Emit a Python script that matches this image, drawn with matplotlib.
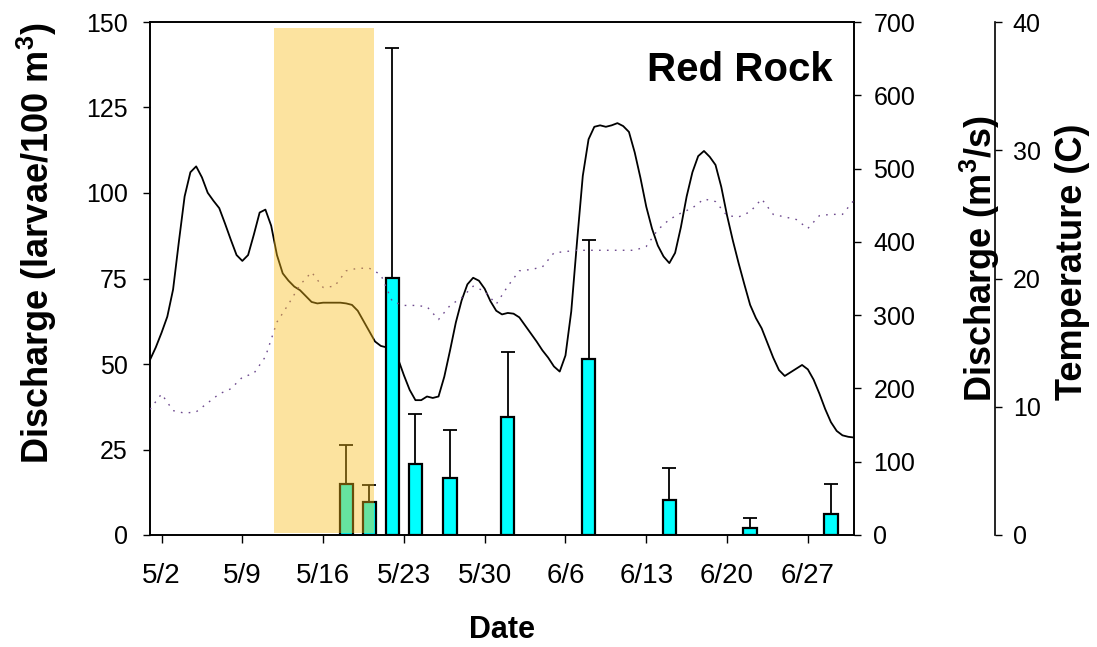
import numpy as np
import pandas as pd
import matplotlib
matplotlib.use("Agg")
import matplotlib.pyplot as plt

plt.rcParams['font.family'] = ['Liberation Sans', 'DejaVu Sans']
plt.rcParams['mathtext.fontset'] = 'custom'
plt.rcParams['mathtext.rm'] = 'Liberation Sans'
plt.rcParams['mathtext.bf'] = 'Liberation Sans:bold'

YEAR = '2008'

# discharge (m3/s) read every 12 h, from 5/1 00:00 to 7/1 00:00
flow_start = '05-01'
discharge = [239, 256, 276, 298, 335, 400, 462, 495, 503, 488,
             467, 456, 446, 425, 403, 382, 374, 382, 410, 440,
             444, 422, 382, 357, 347, 339, 334, 326, 318, 316,
             317, 317, 317, 317, 316, 314, 306, 292, 278, 264,
             258, 256, 250, 240, 218, 198, 184, 184, 189, 187,
             189, 216, 252, 290, 320, 342, 351, 347, 336, 319,
             306, 301, 303, 302, 297, 286, 275, 264, 252, 242,
             230, 223, 245, 305, 400, 490, 540, 557, 559, 557,
             559, 562, 558, 550, 522, 487, 448, 418, 395, 380,
             371, 385, 420, 462, 495, 517, 524, 516, 505, 475,
             436, 402, 371, 342, 314, 296, 282, 262, 242, 225,
             217, 222, 227, 232, 226, 212, 193, 172, 154, 142,
             136, 134, 133]

# daily water temperature (C), 5/1 .. 7/1
temperature = [9.8, 11.0, 9.7, 9.5, 9.6, 10.3, 11.0, 11.4, 12.3, 12.6,
               13.9, 16.6, 18.0, 19.5, 20.5, 19.3, 19.4, 20.6, 20.8, 20.8,
               20.3, 18.2, 17.9, 17.9, 17.8, 16.8, 17.9, 18.5, 19.4, 19.0,
               18.0, 19.4, 20.6, 20.7, 20.9, 22.0, 22.1, 22.2, 22.2, 22.2,
               22.2, 22.2, 22.2, 22.5, 23.8, 24.6, 25.1, 25.5, 26.2, 26.0,
               24.9, 24.8, 25.2, 26.2, 25.0, 24.8, 24.6, 23.9, 24.9, 25.0,
               25.0, 26.1]

# larval density samples (larvae/100 m3) with upper error
sample_dates = ['05-18', '05-20', '05-22', '05-24', '05-27',
                '06-01', '06-08', '06-15', '06-22', '06-29']
density = [15.0, 9.7, 75.2, 20.7, 16.6, 34.5, 51.5, 10.3, 1.95, 6.1]
density_err = [11.3, 4.9, 67.1, 14.7, 14.1, 19.0, 34.8, 9.3, 3.05, 8.8]

# highlighted period
span_start = '05-11 18:00'
span_end = '05-20 10:00'

xtick_dates = ['05-02', '05-09', '05-16', '05-23', '05-30',
               '06-06', '06-13', '06-20', '06-27']
xtick_labels = ['5/2', '5/9', '5/16', '5/23', '5/30', '6/6', '6/13', '6/20', '6/27']


def d(s):
    return pd.Timestamp(f'{YEAR}-{s}')


flow_times = pd.date_range(d(flow_start), periods=len(discharge), freq='12h')
temp_days = pd.date_range(d(flow_start), periods=len(temperature), freq='D')
bar_x = [d(s) for s in sample_dates]

fig = plt.figure(figsize=(10.97, 6.47), dpi=100)
axQ = fig.add_axes([150 / 1097, 112 / 647, 704 / 1097, 513 / 647])
axB = axQ.twinx()
axT = axQ.twinx()

# discharge line (behind the bars)
axQ.plot(flow_times, discharge, color='black', linewidth=1.3, zorder=2)
axQ.set_ylim(0, 700)
axQ.set_yticks(range(0, 701, 100))
axQ.yaxis.tick_right()
axQ.tick_params(axis='y', labelsize=18, direction='out', length=5, pad=9, width=1)

# larval density bars
axB.bar(bar_x, density, width=1.15, color='#00FFFF', edgecolor='black',
        linewidth=1.6, zorder=3)
axB.errorbar(bar_x, density, yerr=[np.zeros(len(density)), density_err],
             fmt='none', ecolor='black', elinewidth=1.3, capsize=5.2,
             capthick=1.3, zorder=4)
axB.set_ylim(0, 150)
axB.set_yticks(range(0, 151, 25))
axB.yaxis.tick_left()
axB.tick_params(axis='y', labelsize=18, direction='out', length=5, pad=11, width=1)

# temperature (dotted) on offset axis
axT.plot(temp_days, temperature, color='#6E4A8E', linewidth=1.0,
         linestyle=(0, (1.2, 4.5)), zorder=5)
axT.set_ylim(0, 40)
axT.set_yticks(range(0, 41, 10))
axT.spines['right'].set_position(('axes', 1.2))
for s in ['top', 'left', 'bottom']:
    axT.spines[s].set_visible(False)
axT.tick_params(axis='y', labelsize=18, direction='out', length=5, pad=8, width=1)

# shaded period on top, translucent
axT.axvspan(d(span_start), d(span_end), ymin=0.004, ymax=0.988,
            color='#FABD16', alpha=0.41, linewidth=0, zorder=6)

axQ.set_xlim(d('05-01'), d('07-01'))
axQ.set_xticks([d(s) for s in xtick_dates])
axQ.set_xticklabels(xtick_labels)
axQ.tick_params(axis='x', labelsize=20, direction='out', length=6, pad=14, width=1)

for a in (axQ, axB, axT):
    for sp in a.spines.values():
        sp.set_linewidth(1.2)

axQ.text(0.969, 0.885, 'Red Rock', transform=axQ.transAxes, ha='right',
         va='baseline', fontsize=29, fontweight='bold')

fig.text(0.5 * (150 + 854) / 1097, 1 - 630 / 647, 'Date', ha='center', va='center',
         fontsize=22, fontweight='bold')
fig.text(37 / 1097, 1 - 243 / 647, r'Discharge (larvae/100 m$^{\mathbf{3}}$)',
         rotation=90, ha='center', va='center', fontsize=26, fontweight='bold')
fig.text(980 / 1097, 1 - 259 / 647, r'Discharge (m$^{\mathbf{3}}$/s)',
         rotation=90, ha='center', va='center', fontsize=26, fontweight='bold')
fig.text(1072 / 1097, 1 - 262 / 647, 'Temperature (C)',
         rotation=90, ha='center', va='center', fontsize=26, fontweight='bold')

fig.savefig('out.png', dpi=100)
